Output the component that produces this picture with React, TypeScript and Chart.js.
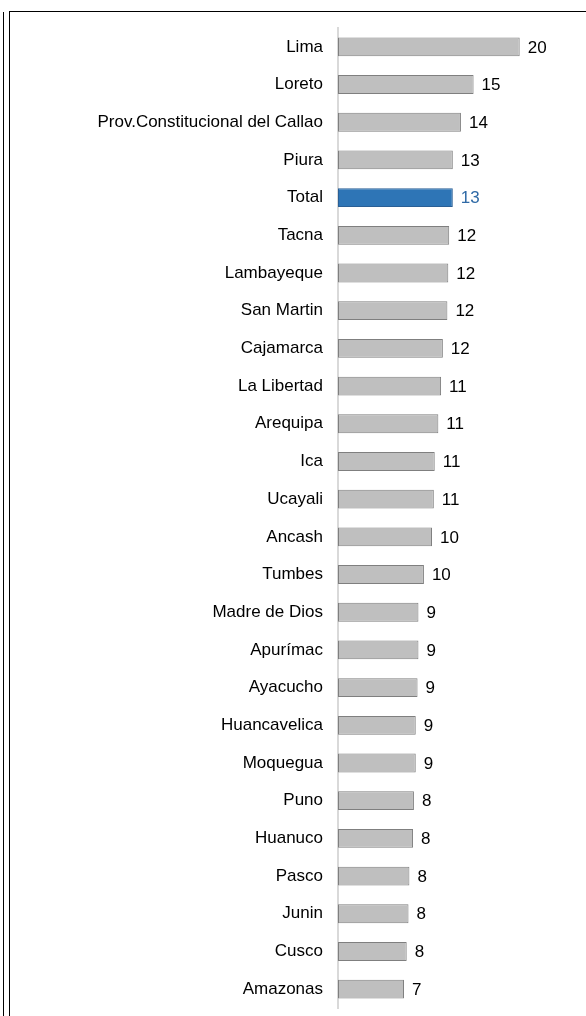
import React, { useEffect, useRef } from "react";
import { Chart, registerables } from "chart.js";

Chart.register(...registerables);

const categories: string[] = [
  "Lima",
  "Loreto",
  "Prov.Constitucional del Callao",
  "Piura",
  "Total",
  "Tacna",
  "Lambayeque",
  "San Martin",
  "Cajamarca",
  "La Libertad",
  "Arequipa",
  "Ica",
  "Ucayali",
  "Ancash",
  "Tumbes",
  "Madre de Dios",
  "Apurímac",
  "Ayacucho",
  "Huancavelica",
  "Moquegua",
  "Puno",
  "Huanuco",
  "Pasco",
  "Junin",
  "Cusco",
  "Amazonas",
];

const values: number[] = [
  20.1, 15.0, 13.6, 12.7, 12.7, 12.3, 12.2, 12.1, 11.6, 11.4, 11.1, 10.7, 10.6,
  10.4, 9.5, 8.9, 8.9, 8.8, 8.6, 8.6, 8.4, 8.3, 7.9, 7.8, 7.6, 7.3,
];

const highlightCategory = "Total";
const xMin = 0;
const xMax = 25;

const FONT = '"Liberation Sans", Arial, sans-serif';
const GREY_FILL = "#bfbfbf";
const GREY_BORDER = "#7f7f7f";
const BLUE_FILL = "#2e75b6";
const BLUE_BORDER = "#2a5f95";
const BLUE_TEXT = "#2f6aa6";

const valueLabelPlugin = {
  id: "valueLabels",
  afterDatasetsDraw(chart: any) {
    const ctx = chart.ctx;
    const meta = chart.getDatasetMeta(0);
    ctx.save();
    ctx.font = `17px ${FONT}`;
    ctx.textAlign = "left";
    ctx.textBaseline = "middle";
    meta.data.forEach((bar: any, i: number) => {
      const v = values[i];
      ctx.fillStyle = categories[i] === highlightCategory ? BLUE_TEXT : "#000000";
      ctx.fillText(String(Math.round(v)), bar.x + 8, bar.y + 1);
    });
    ctx.restore();
  },
};

export default function App() {
  const canvasRef = useRef<HTMLCanvasElement | null>(null);

  useEffect(() => {
    if (!canvasRef.current) return;
    const isHi = categories.map((c) => c === highlightCategory);
    const chart = new Chart(canvasRef.current, {
      type: "bar",
      data: {
        labels: categories,
        datasets: [
          {
            data: values,
            backgroundColor: isHi.map((h) => (h ? BLUE_FILL : GREY_FILL)),
            borderColor: isHi.map((h) => (h ? BLUE_BORDER : GREY_BORDER)),
            borderWidth: 1,
            borderSkipped: false,
            barPercentage: 0.5,
            categoryPercentage: 1,
          },
        ],
      },
      options: {
        indexAxis: "y",
        responsive: false,
        maintainAspectRatio: false,
        animation: false,
        devicePixelRatio: 1,
        layout: { padding: { top: 28, bottom: 8, left: 0, right: 22 } },
        plugins: {
          legend: { display: false },
          tooltip: { enabled: false },
          title: { display: false },
        },
        scales: {
          x: {
            type: "linear",
            min: xMin,
            max: xMax,
            display: false,
          },
          y: {
            type: "category",
            grid: { display: false, drawTicks: false, tickLength: 0 },
            border: { display: true, color: "#d9d9d9", width: 2 },
            ticks: {
              color: "#000000",
              padding: 15,
              font: { family: FONT, size: 17 },
              autoSkip: false,
            },
            afterFit: (scale: any) => {
              scale.width = 338;
              scale.paddingTop = 0;
              scale.paddingBottom = 0;
            },
          },
        },
      },
      plugins: [valueLabelPlugin],
    });
    return () => chart.destroy();
  }, []);

  return (
    <div
      style={{
        position: "absolute",
        left: 0,
        top: 0,
        width: 586,
        height: 1016,
        overflow: "hidden",
        background: "#ffffff",
      }}
    >
      <div
        style={{
          position: "absolute",
          left: 3,
          top: 12,
          width: 1,
          height: 1010,
          background: "#000000",
        }}
      />
      <div
        style={{
          position: "absolute",
          left: 9,
          top: 11,
          width: 600,
          height: 1020,
          borderLeft: "1px solid #000000",
          borderTop: "1px solid #000000",
        }}
      />
      <canvas
        ref={canvasRef}
        width={586}
        height={1016}
        style={{ position: "absolute", left: 0, top: 0, width: 586, height: 1016 }}
      />
    </div>
  );
}
